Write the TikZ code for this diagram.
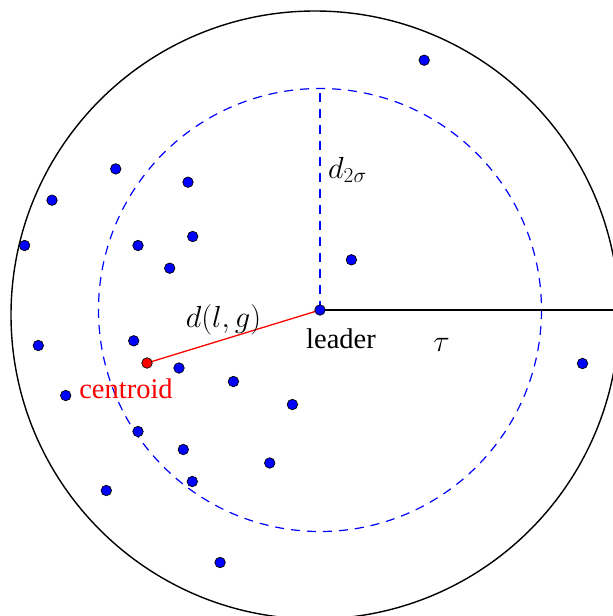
\RequirePackage{fix-cm}
\documentclass[tikz,border=0pt]{standalone}
\usepackage{fontspec}
\newfontfamily\timesf{Liberation Serif}
\begin{document}
\begin{tikzpicture}[x=1pt,y=-1pt,
  dot/.style={circle,draw=black,line width=0.7pt,fill=blue,inner sep=0pt,minimum size=10.5pt},
  rdot/.style={dot,fill=red},
  lbl/.style={inner sep=0pt,font=\timesf\fontsize{28.5}{34}\selectfont},
  mlbl/.style={inner sep=0pt,font=\fontsize{30.5}{36}\selectfont},
  dsh/.style={draw=blue,line width=1.2pt,dash pattern=on 9pt off 7pt},
  ring/.style={draw=black,line width=1.4pt}]
\useasboundingbox (0,0) rectangle (613,616);
\clip (0,0) rectangle (613,616);
% key points
\coordinate (L) at (320,310);
\coordinate (C) at (147,363);
\coordinate (E) at (620,310);
\coordinate (T) at (320,88);
\coordinate (O) at (315,315);
% circles
\draw[ring] (O) circle[radius=304];
\draw[dsh] (L) circle[radius=221.5];
% connectors
\draw[dsh,line width=1.5pt] (L) -- (T);
\draw[black,line width=1.3pt] (L) -- (E);
\draw[red,line width=1.3pt] (L) -- (C);
% points
\node[dot] (p1) at (424.2,60.2) {};
\node[dot] (p2) at (115.7,168.9) {};
\node[dot] (p3) at (188.0,182.2) {};
\node[dot] (p4) at (52.0,200.2) {};
\node[dot] (p5) at (24.6,245.5) {};
\node[dot] (p6) at (138.0,245.5) {};
\node[dot] (p7) at (192.7,236.5) {};
\node[dot] (p8) at (169.7,268.2) {};
\node[dot] (p9) at (351.4,259.8) {};
\node[dot] (p11) at (38.3,345.5) {};
\node[dot] (p12) at (133.7,340.8) {};
\node[dot] (p14) at (179.0,368.0) {};
\node[dot] (p15) at (233.4,381.5) {};
\node[dot] (p16) at (65.7,395.5) {};
\node[dot] (p17) at (292.4,404.5) {};
\node[dot] (p18) at (582.5,363.5) {};
\node[dot] (p19) at (138.0,431.5) {};
\node[dot] (p20) at (183.3,449.5) {};
\node[dot] (p21) at (269.7,463.0) {};
\node[dot] (p22) at (192.3,481.5) {};
\node[dot] (p23) at (106.3,490.5) {};
\node[dot] (p24) at (220.1,562.5) {};
\node[dot] (leader) at (L) {};
\node[rdot] (centroid) at (C) {};
% labels
\node[lbl,anchor=base] (tl) at (341,348) {leader};
\node[lbl,anchor=base,text=red] (tc) at (126,398.5) {centroid};
\node[mlbl,anchor=base] (tt) at (441.5,351) {$\tau$};
\node[mlbl,anchor=base] (td) at (223.5,327) {$d(l,g)$};
\node[mlbl,anchor=base west] (ts) at (328,178) {$d_{2\sigma}$};
\end{tikzpicture}
\end{document}
